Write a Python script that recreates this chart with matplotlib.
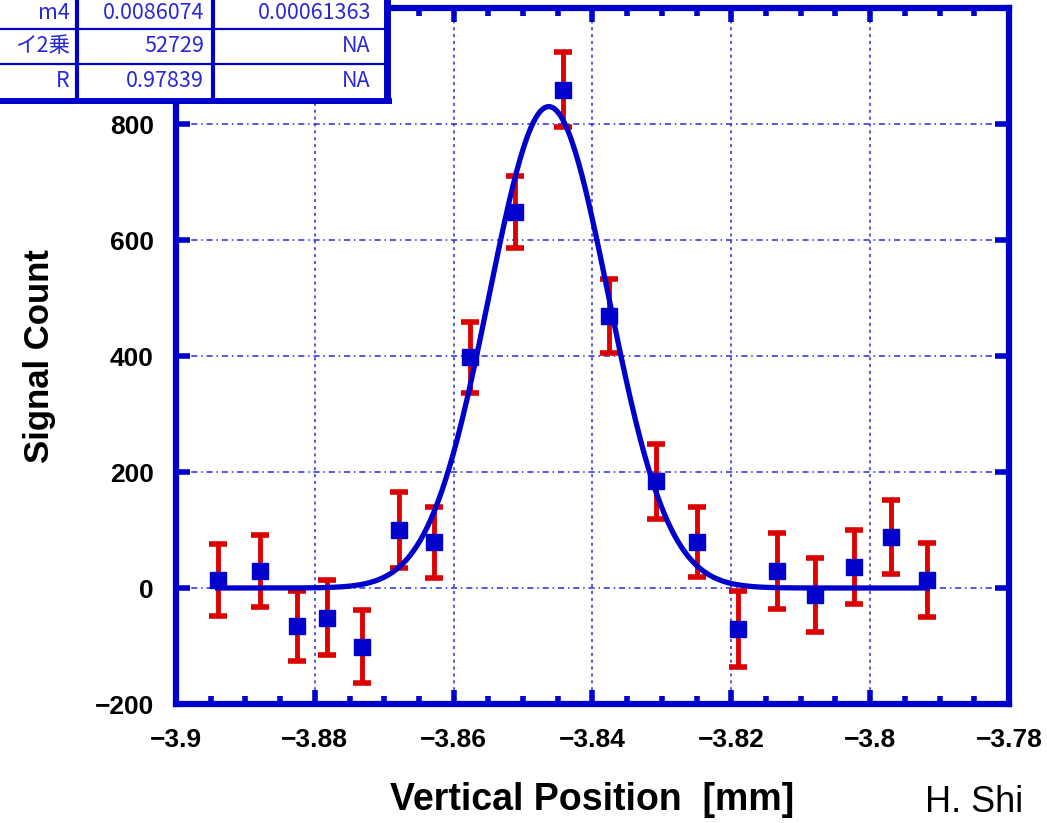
import numpy as np
import matplotlib
matplotlib.use("Agg")
import matplotlib.pyplot as plt
from matplotlib.ticker import AutoMinorLocator
from matplotlib.lines import Line2D

# data
pos = [-3.8940, -3.8879, -3.8826, -3.8783, -3.8732, -3.8679, -3.8629,
       -3.8576, -3.8511, -3.8442, -3.8376, -3.8309, -3.8249, -3.8191,
       -3.8134, -3.8079, -3.8023, -3.7970, -3.7918]
count = [14, 29, -66, -51, -101, 100, 79, 398, 648, 859, 469, 184, 79, -71,
         29, -12, 36, 88, 14]
err = [62, 62, 60, 64, 63, 66, 61, 61, 62, 65, 63, 65, 60, 65, 65, 63, 64, 64, 64]

# gaussian fit parameters
m1 = 0.0
m2 = 830.0
m3 = -3.8463
m4 = 0.0086074

tab_rows = [["m4", "0.0086074", "0.00061363"],
            ["イ2乗", "52729", "NA"],
            ["R", "0.97839", "NA"]]

blue = "#0000cc"
red = "#dd0000"
W, H = 1047, 823

plt.rcParams['font.family'] = ['Liberation Sans', 'DejaVu Sans']
fig = plt.figure(figsize=(W / 100, H / 100), dpi=100)
ax = fig.add_axes([176 / W, 1 - 704 / H, (1009 - 176) / W, (704 - 8) / H])

ax.errorbar(pos, count, yerr=err, fmt='none', ecolor=red, elinewidth=3.5,
            capsize=6.5, capthick=4, zorder=3)
ax.plot(pos, count, 's', color=blue, ms=11, zorder=4)
xf = np.linspace(pos[0], pos[-1], 400)
yf = m1 + m2 * np.exp(-0.5 * ((xf - m3) / m4) ** 2)
ax.plot(xf, yf, color=blue, lw=3.8, zorder=5)

ax.set_xlim(-3.9, -3.78)
ax.set_ylim(-200, 1000)
ax.xaxis.set_minor_locator(AutoMinorLocator(4))
ax.set_xticks([-3.9, -3.88, -3.86, -3.84, -3.82, -3.8, -3.78])
ax.set_xticklabels(["\u22123.9", "\u22123.88", "\u22123.86", "\u22123.84",
                    "\u22123.82", "\u22123.8", "\u22123.78"])
ax.set_yticks([-200, 0, 200, 400, 600, 800])
ax.set_yticklabels(["\u2212200", "0", "200", "400", "600", "800"])

ax.tick_params(which='both', direction='in', top=True, right=True, color=blue)
ax.tick_params(which='major', length=10, width=4, labelsize=19)
ax.tick_params(axis='x', which='major', pad=17)
ax.tick_params(axis='y', which='major', pad=16)
ax.tick_params(which='minor', length=6, width=4)
for lab in ax.get_xticklabels() + ax.get_yticklabels():
    lab.set_fontweight('bold')
for s in ax.spines.values():
    s.set_color(blue)
    s.set_linewidth(4.5)

for yv in [0, 200, 400, 600, 800]:
    ax.axhline(yv, color="#2a2ae0", lw=1.1, ls=(0, (4, 2.5, 1, 2.5)), zorder=1)
for xv in [-3.88, -3.86, -3.84, -3.82, -3.8]:
    ax.axvline(xv, color="#2a2ae0", lw=1.1, ls=(0, (2, 2.5)), zorder=1)

ax.set_ylabel("Signal Count", fontsize=25, fontweight='bold', labelpad=28)
ax.set_xlabel("Vertical Position  [mm]", fontsize=27, fontweight='bold', labelpad=22)

fig.text(925 / W, 1 - 812 / H, "H. Shi", fontsize=26, va='baseline', ha='left')

# fit table at top left
tab = fig.add_axes([0, 1 - 104 / H, 392 / W, 104 / H])
tab.set_xlim(0, 392)
tab.set_ylim(104, 0)
tab.axis('off')
tab.add_patch(plt.Rectangle((0, 0), 388, 101, facecolor='white', edgecolor='none'))
tab.add_line(Line2D([0, 388], [28.5, 28.5], color=blue, lw=1.6))
tab.add_line(Line2D([0, 388], [64, 64], color=blue, lw=1.6))
tab.add_line(Line2D([0, 391], [100.5, 100.5], color=blue, lw=5))
tab.add_line(Line2D([77.5, 77.5], [0, 101], color=blue, lw=3))
tab.add_line(Line2D([213, 213], [0, 101], color=blue, lw=3))
tab.add_line(Line2D([387, 387], [0, 103], color=blue, lw=5))
row_y = [13, 46, 81]
col_x = [70, 204, 371]
for r, row in enumerate(tab_rows):
    for c, txt in enumerate(row):
        tab.text(col_x[c], row_y[r], txt, ha='right', va='center', color="#2828d8",
                 fontsize=15.5, family=['Noto Sans CJK JP', 'DejaVu Sans'])

fig.savefig("out.png", dpi=100)
